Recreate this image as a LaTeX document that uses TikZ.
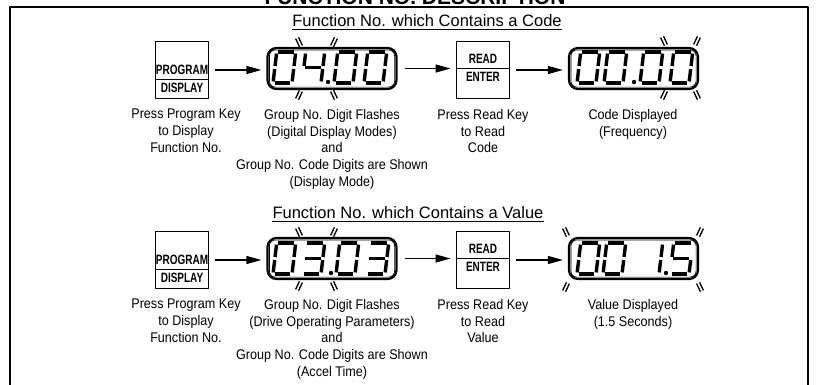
\documentclass[tikz,border=0pt]{standalone}
\usepackage{fontspec}
\setmainfont{Liberation Sans}[FakeStretch=0.9]
\newfontfamily\headfont{Liberation Sans}
\newfontfamily\keyfont{Liberation Sans}[FakeStretch=0.74]
\usetikzlibrary{arrows.meta,shapes.misc,positioning}

% seven segment digit: bits a b c d e f g
\def\segbits#1#2#3#4#5#6#7\relax{%
  \ifnum#1=1 \draw[seg] (0,-31)--(19,-31);\fi
  \ifnum#2=1 \draw[seg] (19,-31)--(19,-15.5);\fi
  \ifnum#3=1 \draw[seg] (19,-15.5)--(19,0);\fi
  \ifnum#4=1 \draw[seg] (0,0)--(19,0);\fi
  \ifnum#5=1 \draw[seg] (0,0)--(0,-15.5);\fi
  \ifnum#6=1 \draw[seg] (0,-15.5)--(0,-31);\fi
  \ifnum#7=1 \draw[seg] (0,-15.5)--(19,-15.5);\fi}
\expandafter\def\csname segd0\endcsname{1111110}
\expandafter\def\csname segd1\endcsname{0110000}
\expandafter\def\csname segd3\endcsname{1111001}
\expandafter\def\csname segd4\endcsname{0110011}
\expandafter\def\csname segd5\endcsname{1011011}
\newcommand\segdigit[3]{\begin{scope}[shift={(#1,#2)},xslant=.12]
  \expandafter\expandafter\expandafter\segbits\csname segd#3\endcsname\relax\end{scope}}
% flashing mark: x, y, angle
\newcommand\flashmark[3]{\begin{scope}[shift={(#1,#2)},rotate=#3]
  \draw[flash] (-4.5,1.6)--(4.5,1.6) (-4.5,-1.6)--(4.5,-1.6);\end{scope}}

\tikzset{
  seg/.style={line width=3.4pt, shorten <=1.6pt, shorten >=1.6pt},
  flash/.style={line width=1.3pt},
  keycap/.style={draw, line width=.9pt, chamfered rectangle, chamfered rectangle xsep=2.5pt,
    chamfered rectangle ysep=2.5pt, minimum width=53pt, minimum height=57pt, inner sep=0pt},
  keytext/.style={font=\keyfont\bfseries\fontsize{13.5}{13.5}\selectfont, inner sep=0pt},
  lcd/.style={draw, line width=2.2pt, rounded corners=9pt, minimum width=129pt,
    minimum height=41pt, inner sep=0pt},
  caption/.style={align=center, font=\fontsize{14}{16.8}\selectfont, anchor=north, inner sep=0pt},
  subtitle/.style={font=\headfont\fontsize{16.5}{19}\selectfont, anchor=base, inner sep=0pt},
  flow/.style={line width=1.3pt, -{Triangle[length=15pt,width=8pt]}, shorten <=7pt, shorten >=5pt},
}

\begin{document}
\begin{tikzpicture}[x=1pt,y=-1pt,line join=round]
\useasboundingbox (0,0) rectangle (820,384);
% frame and heading
\draw[line width=2.4pt] (10,390) -- (10,7) -- (808,7) -- (808,390);
\node[font=\headfont\bfseries\fontsize{21}{24}\selectfont, anchor=base, inner sep=0pt] (title) at (415,4) {FUNCTION NO. DESCRIPTION};

% ---- row 1: code
\node[subtitle] (sub1) at (427,26) {Function No. which Contains a Code};
\draw[line width=.8pt] ([yshift=-3pt]sub1.base west) -- ([yshift=-3pt]sub1.base east);

\node[keycap] (prog1) at (181.5,70) {};
\node[keytext] (prog1t) at (182,70) {PROGRAM};
\node[keytext] (prog1b) at (182,88) {DISPLAY};
\draw[line width=1pt] (prog1.west |- 0,79) -- (prog1.east |- 0,79);

\node[lcd] (lcd1) at (332,68.5) {};
\draw[line width=.7pt, rounded corners=6pt] ([shift={(3,3)}]lcd1.north west) rectangle ([shift={(-3,-3)}]lcd1.south east);
\segdigit{273}{83}{0}\segdigit{302}{83}{4}\segdigit{334}{83}{0}\segdigit{364}{83}{0}
\fill (328,82) circle (2.2);
\flashmark{299}{42}{115}\flashmark{334}{42}{65}\flashmark{299}{95}{65}\flashmark{334}{95}{115}

\node[keycap] (read1) at (482.5,70) {};
\node[keytext] (read1t) at (483,59) {READ};
\node[keytext] (read1b) at (483,77) {ENTER};
\draw[line width=1pt] (read1.west |- 0,68) -- (read1.east |- 0,68);

\node[lcd] (lcd2) at (633.5,68.5) {};
\draw[line width=.7pt, rounded corners=6pt] ([shift={(3,3)}]lcd2.north west) rectangle ([shift={(-3,-3)}]lcd2.south east);
\segdigit{577}{83}{0}\segdigit{604}{83}{0}\segdigit{640}{83}{0}\segdigit{670}{83}{0}
\fill (634,82) circle (2.2);
\flashmark{664}{41}{115}\flashmark{697}{41}{65}\flashmark{664}{95}{65}\flashmark{697}{95}{115}

\draw[flow] (prog1.east) -- (prog1.east -| lcd1.west);
\draw[flow] (lcd1.east) -- (lcd1.east -| read1.west);
\draw[flow] (read1.east) -- (read1.east -| lcd2.west);

\node[caption] (cap1) at (186,109) {Press Program Key\\to Display\\Function No.};
\node[caption] (cap2) at (332,109) {Group No. Digit Flashes\\(Digital Display Modes)\\and\\Group No. Code Digits are Shown\\(Display Mode)};
\node[caption] (cap3) at (483,109) {Press Read Key\\to Read\\Code};
\node[caption] (cap4) at (633,109) {Code Displayed\\(Frequency)};

% ---- row 2: value
\begin{scope}[yshift=-190pt]
\node[subtitle] (sub2) at (408,28) {Function No. which Contains a Value};
\draw[line width=.8pt] ([yshift=-3pt]sub2.base west) -- ([yshift=-3pt]sub2.base east);

\node[keycap] (prog2) at (181.5,70) {};
\node[keytext] (prog2t) at (182,70) {PROGRAM};
\node[keytext] (prog2b) at (182,88) {DISPLAY};
\draw[line width=1pt] (prog2.west |- 0,79) -- (prog2.east |- 0,79);

\node[lcd] (lcd3) at (332,68.5) {};
\draw[line width=.7pt, rounded corners=6pt] ([shift={(3,3)}]lcd3.north west) rectangle ([shift={(-3,-3)}]lcd3.south east);
\segdigit{273}{84}{0}\segdigit{302}{84}{3}\segdigit{336}{84}{0}\segdigit{366}{84}{3}
\fill (331,83) circle (2.2);
\flashmark{299}{42}{115}\flashmark{334}{42}{65}\flashmark{299}{96}{65}\flashmark{334}{96}{115}

\node[keycap] (read2) at (482.5,70) {};
\node[keytext] (read2t) at (483,59) {READ};
\node[keytext] (read2b) at (483,77) {ENTER};
\draw[line width=1pt] (read2.west |- 0,68) -- (read2.east |- 0,68);

\node[lcd] (lcd4) at (633.5,68.5) {};
\draw[line width=.7pt, rounded corners=6pt] ([shift={(3,3)}]lcd4.north west) rectangle ([shift={(-3,-3)}]lcd4.south east);
\segdigit{577}{84}{0}\segdigit{603}{84}{0}\segdigit{640}{84}{1}\segdigit{670}{84}{5}
\fill (666,83) circle (2.2);
\flashmark{566}{42}{115}\flashmark{700}{42}{65}\flashmark{566}{97}{65}\flashmark{700}{97}{115}

\draw[flow] (prog2.east) -- (prog2.east -| lcd3.west);
\draw[flow] (lcd3.east) -- (lcd3.east -| read2.west);
\draw[flow] (read2.east) -- (read2.east -| lcd4.west);

\node[caption] (cap5) at (186,109) {Press Program Key\\to Display\\Function No.};
\node[caption] (cap6) at (332,109) {Group No. Digit Flashes\\(Drive Operating Parameters)\\and\\Group No. Code Digits are Shown\\(Accel Time)};
\node[caption] (cap7) at (483,109) {Press Read Key\\to Read\\Value};
\node[caption] (cap8) at (633,109) {Value Displayed\\(1.5 Seconds)};
\end{scope}
\end{tikzpicture}
\end{document}
